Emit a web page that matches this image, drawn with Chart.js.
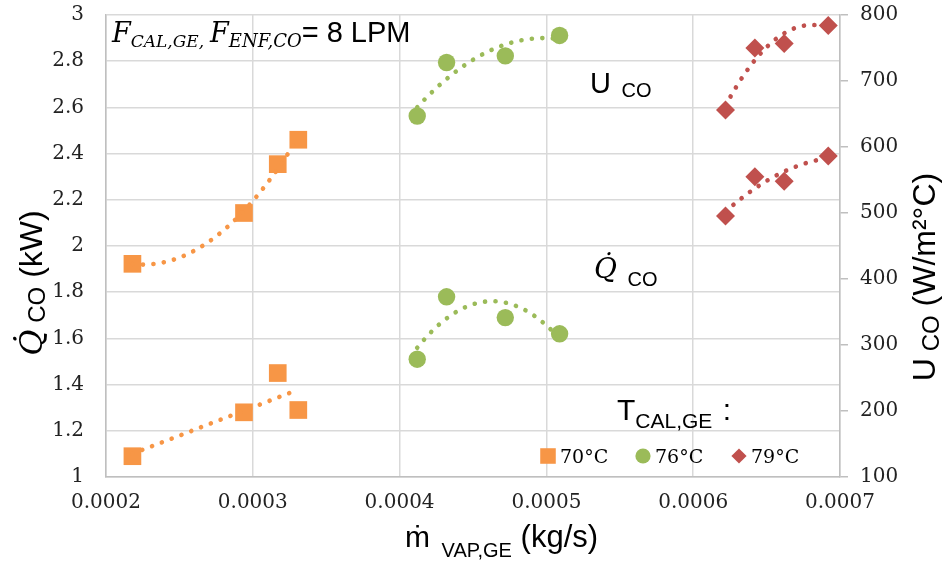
<!DOCTYPE html>
<html>
<head>
<meta charset="utf-8">
<script src="https://cdn.jsdelivr.net/npm/chart.js@4/dist/chart.umd.min.js"></script>
<style>
  html, body { margin: 0; padding: 0; background: #fff; }
  canvas { display: block; }
</style>
</head>
<body>
<canvas id="grafico" width="943" height="563"></canvas>
<script>
// valores
const series = ['70°C', '76°C', '79°C'];
const x70 = [0.000218, 0.000294, 0.000317, 0.000331];
const q70 = [1.09, 1.28, 1.45, 1.29];
const u70 = [423, 500, 574, 611];
const x76 = [0.000412, 0.000432, 0.000472, 0.000509];
const q76 = [1.51, 1.78, 1.69, 1.62];
const u76 = [647, 728, 738, 769];
const x79 = [0.000622, 0.000642, 0.000662, 0.000692];
const q79 = [2.13, 2.30, 2.28, 2.39];
const u79 = [656, 750, 757, 784];
const xTicks = [0.0002, 0.0007, 0.0001];
const qTicks = [1, 3, 0.2];
const uTicks = [100, 800, 100];

const LARANJA = '#F79646';
const VERDE = '#9BBB59';
const VERMELHO = '#C0504D';
const SERIF = '"DejaVu Serif", serif';
const SANS = '"Liberation Sans", Arial, sans-serif';

function pontos(xs, ys) {
    return xs.map((x, i) => ({ x: x, y: ys[i] }));
}

// ordem da linha de tendência de cada série [Q, U]
const estilos = [
    { cor: LARANJA, forma: 'rect', raio: 12.5, ordem: [1, 2] },
    { cor: VERDE, forma: 'circle', raio: 8.7, ordem: [2, 2] },
    { cor: VERMELHO, forma: 'rectRot', raio: 9.5, ordem: [2, 2] }
];
const grupos = [[x70, q70, u70], [x76, q76, u76], [x79, q79, u79]];

const datasets = [];
grupos.forEach((g, i) => {
    const e = estilos[i];
    [['y', g[1]], ['y2', g[2]]].forEach(([eixo, ys]) => {
        datasets.push({
            label: series[i],
            data: pontos(g[0], ys),
            yAxisID: eixo,
            pointStyle: e.forma,
            pointRadius: e.raio,
            pointHoverRadius: e.raio,
            backgroundColor: e.cor,
            borderColor: e.cor,
            borderWidth: 0,
            showLine: false
        });
    });
});

// ajuste polinomial por mínimos quadrados (linha de tendência do Excel)
function ajuste(xs, ys, ordem) {
    const n = ordem + 1;
    const m = xs.reduce((a, b) => a + b, 0) / xs.length;
    const us = xs.map(x => (x - m) / 1e-4);
    const A = [];
    for (let r = 0; r < n; r++) {
        A.push([]);
        for (let c = 0; c < n; c++) A[r].push(us.reduce((s, u) => s + Math.pow(u, r + c), 0));
        A[r].push(us.reduce((s, u, i) => s + ys[i] * Math.pow(u, r), 0));
    }
    for (let c = 0; c < n; c++) {
        for (let r = c + 1; r < n; r++) {
            const f = A[r][c] / A[c][c];
            for (let k = c; k <= n; k++) A[r][k] -= f * A[c][k];
        }
    }
    const co = new Array(n).fill(0);
    for (let r = n - 1; r >= 0; r--) {
        let s = A[r][n];
        for (let k = r + 1; k < n; k++) s -= A[r][k] * co[k];
        co[r] = s / A[r][r];
    }
    return x => {
        const u = (x - m) / 1e-4;
        return co.reduce((s, c, k) => s + c * Math.pow(u, k), 0);
    };
}

const tendencias = {
    id: 'tendencias',
    afterDatasetsDraw(chart) {
        const ctx = chart.ctx;
        const sx = chart.scales.x;
        ctx.save();
        ctx.lineWidth = 4.6;
        ctx.lineCap = 'round';
        ctx.setLineDash([0.1, 10.4]);
        grupos.forEach((g, i) => {
            [['y', g[1]], ['y2', g[2]]].forEach(([eixo, ys], j) => {
                const f = ajuste(g[0], ys, estilos[i].ordem[j]);
                const sy = chart.scales[eixo];
                const x0 = Math.min(...g[0]), x1 = Math.max(...g[0]);
                ctx.strokeStyle = estilos[i].cor;
                ctx.beginPath();
                for (let k = 0; k <= 80; k++) {
                    const x = x0 + (x1 - x0) * k / 80;
                    const px = sx.getPixelForValue(x), py = sy.getPixelForValue(f(x));
                    if (k === 0) ctx.moveTo(px, py); else ctx.lineTo(px, py);
                }
                ctx.stroke();
            });
        });
        ctx.restore();
    }
};

// escreve texto com partes (subscritos etc.)
function textoRico(ctx, x, y, partes, centro) {
    let w = 0;
    partes.forEach(p => { ctx.font = p.font; w += ctx.measureText(p.t).width + (p.gap || 0); });
    let cx = centro ? x - w / 2 : x;
    partes.forEach(p => {
        ctx.font = p.font;
        cx += p.gap || 0;
        ctx.fillText(p.t, cx, y + (p.dy || 0));
        cx += ctx.measureText(p.t).width;
    });
}

const textos = {
    id: 'textos',
    afterDraw(chart) {
        const ctx = chart.ctx;
        ctx.save();
        ctx.fillStyle = '#000';
        ctx.textBaseline = 'alphabetic';
        ctx.textAlign = 'left';

        textoRico(ctx, 112, 42, [
            { t: 'F', font: 'italic 27px ' + SERIF },
            { t: 'CAL,GE,', font: 'italic 17px ' + SERIF, dy: 5 },
            { t: 'F', font: 'italic 27px ' + SERIF, gap: 6 },
            { t: 'ENF,CO', font: 'italic 18px ' + SERIF, dy: 5 },
            { t: '= 8 LPM', font: '29px ' + SANS }
        ]);

        textoRico(ctx, 590, 93, [
            { t: 'U', font: '29px ' + SANS },
            { t: ' CO', font: '20px ' + SANS, dy: 4, gap: 5 }
        ]);
        textoRico(ctx, 594, 278, [
            { t: 'Q\u0307', font: 'italic 28px ' + SERIF },
            { t: ' CO', font: '20px ' + SANS, dy: 8, gap: 5 }
        ]);

        textoRico(ctx, 617, 420, [
            { t: 'T', font: '30px ' + SANS },
            { t: 'CAL,GE', font: '21px ' + SANS, dy: 8 },
            { t: ' :', font: '30px ' + SANS, gap: 2 }
        ]);

        // legenda
        const leg = [[548, 560], [643, 655], [739, 751]];
        leg.forEach((l, i) => {
            const e = estilos[i];
            ctx.fillStyle = e.cor;
            Chart.helpers.drawPoint(ctx, { pointStyle: e.forma, radius: e.forma === 'rect' ? 11 : 7.6, borderWidth: 0 }, l[0], 456);
            ctx.fillStyle = '#000';
            ctx.font = '19px ' + SERIF;
            ctx.fillText(series[i], l[1], 463);
        });

        // título eixo x
        textoRico(ctx, 405, 547, [
            { t: '\u1E41', font: '30px ' + SANS },
            { t: ' VAP,GE', font: '20px ' + SANS, dy: 10, gap: 6 },
            { t: ' (kg/s)', font: '31px ' + SANS }
        ]);

        // título eixo y esquerdo
        ctx.save();
        ctx.translate(42, 283);
        ctx.rotate(-Math.PI / 2);
        textoRico(ctx, 0, 0, [
            { t: 'Q\u0307', font: 'italic 32px ' + SERIF },
            { t: ' CO', font: '24px ' + SANS, dy: 3 },
            { t: ' (kW)', font: '32px ' + SANS }
        ], true);
        ctx.restore();

        // título eixo y direito
        ctx.save();
        ctx.translate(935, 277);
        ctx.rotate(-Math.PI / 2);
        textoRico(ctx, 0, 0, [
            { t: 'U', font: '32px ' + SANS },
            { t: ' CO', font: '24px ' + SANS, dy: 4 },
            { t: ' (W/m\u00B2\u00B0C)', font: '32px ' + SANS }
        ], true);
        ctx.restore();

        ctx.restore();
    }
};

const grade = { color: '#d9d9d9', lineWidth: 1.5, drawTicks: false };
const borda = { color: '#bfbfbf', width: 1.5 };
const fonteTicks = { family: SERIF, size: 20 };

function semPadding(s, w) {
    s.width = w;
    s.paddingTop = 0;
    s.paddingBottom = 0;
}

new Chart(document.getElementById('grafico').getContext('2d'), {
    type: 'scatter',
    data: { datasets: datasets },
    options: {
        responsive: false,
        animation: false,
        layout: { padding: { top: 15, left: 0, right: 0, bottom: 0 } },
        plugins: { legend: { display: false }, tooltip: { enabled: false } },
        scales: {
            x: {
                type: 'linear', position: 'bottom',
                min: xTicks[0], max: xTicks[1],
                ticks: { stepSize: xTicks[2], callback: v => v.toFixed(4), font: fonteTicks, color: '#222', padding: 14, maxRotation: 0 },
                grid: grade, border: borda,
                afterFit: s => { s.height = 86; s.paddingTop = 0; }
            },
            y: {
                position: 'left',
                min: qTicks[0], max: qTicks[1],
                ticks: { stepSize: qTicks[2], callback: v => String(+v.toFixed(1)), font: fonteTicks, color: '#222', padding: 22 },
                grid: grade, border: borda,
                afterFit: s => semPadding(s, 106)
            },
            y2: {
                position: 'right',
                min: uTicks[0], max: uTicks[1],
                ticks: { stepSize: uTicks[2], font: fonteTicks, color: '#222', padding: 12 },
                grid: { drawOnChartArea: false, color: '#bfbfbf', lineWidth: 1.5, tickLength: 8 },
                border: borda,
                afterFit: s => semPadding(s, 103)
            }
        }
    },
    plugins: [tendencias, textos]
});
</script>
</body>
</html>
